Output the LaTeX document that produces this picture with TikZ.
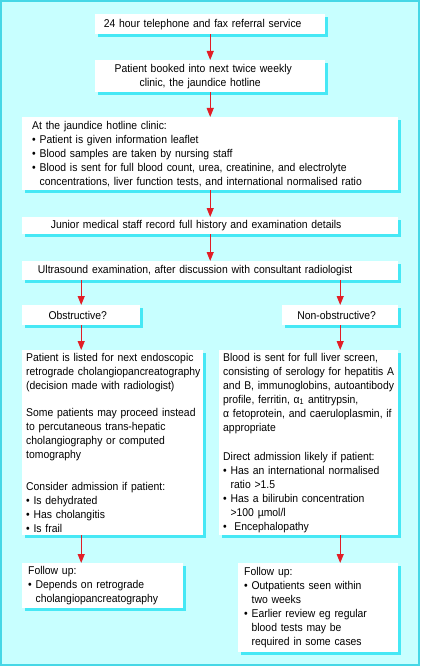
\documentclass[tikz,border=0pt]{standalone}
\usepackage{fontspec}
\setmainfont[FakeStretch=0.92]{Liberation Sans}
\usetikzlibrary{arrows.meta,shadows}
\definecolor{bgc}{RGB}{200,255,255}
\definecolor{shc}{RGB}{70,232,245}
\definecolor{borderc}{RGB}{70,215,230}
\definecolor{arrc}{RGB}{226,30,38}
\hyphenpenalty=10000
\exhyphenpenalty=10000
\begin{document}
\begin{tikzpicture}[x=1pt,y=-1pt,
  box/.style={fill=white, anchor=north west, inner ysep=0pt,
    font=\fontsize{11.3}{14}\selectfont,
    general shadow={fill=shc, shadow xshift=3pt, shadow yshift=-3pt}},
  cbox/.style={box, align=center, inner xsep=0pt},
  lbox/.style={box, align=left},
  arr/.style={draw=arrc, line width=1.1pt, -{Triangle[length=9pt,width=7pt]}}]
\useasboundingbox (0,0) rectangle (420,666);
\fill[bgc] (0,0) rectangle (420,666);
\draw[borderc, line width=2pt] (1,1) rectangle (419,665);

\node[cbox, text width=230pt, minimum height=20pt] (b1) at (95,14)
  {\hspace*{-15pt}24 hour telephone and fax referral service};
\node[cbox, text width=230pt, minimum height=32pt] (b2) at (95,60)
  {\hspace*{-14pt}Patient booked into next twice weekly\\\hspace*{-20pt}clinic, the jaundice hotline};
\node[lbox, inner xsep=10pt, text width=356pt, minimum height=73pt] (b3) at (22,117)
  {At the jaundice hotline clinic:\\
   • Patient is given information leaflet\\
   • Blood samples are taken by nursing staff\\
   • Blood is sent for full blood count, urea, creatinine, and electrolyte\\
   \phantom{• }concentrations, liver function tests, and international normalised ratio};
\node[cbox, text width=376pt, minimum height=17pt] (b4) at (22,217)
  {\hspace*{-28pt}Junior medical staff record full history and examination details};
\node[cbox, text width=376pt, minimum height=19pt] (b5) at (22,261)
  {\hspace*{-30pt}Ultrasound examination, after discussion with consultant radiologist};
\node[cbox, text width=118pt, minimum height=20pt] (b6) at (22,305)
  {\hspace*{-7pt}Obstructive?};
\node[cbox, text width=116pt, minimum height=20pt] (b7) at (282,305)
  {\hspace*{-7pt}Non-obstructive?};
\node[lbox, inner xsep=4pt, text width=173pt, minimum height=185pt] (b8) at (22,350)
  {Patient is listed for next endoscopic\\
   \mbox{retrograde cholangiopancreatography}\\
   (decision made with radiologist)\\[13pt]
   Some patients may proceed instead\\
   to percutaneous trans-hepatic\\
   cholangiography or computed\\
   tomography\\[18pt]
   Consider admission if patient:\\
   • Is dehydrated\\
   • Has cholangitis\\
   • Is frail};
\node[lbox, inner xsep=4pt, text width=171pt, minimum height=185pt] (b9) at (219,350)
  {Blood is sent for full liver screen,\\
   consisting of serology for hepatitis A\\
   and B, immunoglobins, autoantibody\\
   profile, ferritin, α\textsubscript{1} antitrypsin,\\
   α fetoprotein, and caeruloplasmin, if\\
   appropriate\\[15pt]
   Direct admission likely if patient:\\
   • Has an international normalised\\
   \phantom{• }ratio >1.5\\
   • Has a bilirubin concentration\\
   \phantom{• }>100 µmol/l\\
   •\ \ Encephalopathy};
\node[lbox, inner xsep=6pt, text width=149pt, minimum height=45pt] (b10) at (22,563)
  {Follow up:\\
   • Depends on retrograde\\
   \phantom{• }cholangiopancreatography};
\node[lbox, inner xsep=6pt, text width=148pt, minimum height=89pt] (b11) at (238,563)
  {Follow up:\\
   • Outpatients seen within\\
   \phantom{• }two weeks\\
   • Earlier review eg regular\\
   \phantom{• }blood tests may be\\
   \phantom{• }required in some cases};

\draw[arr] (b1.south) -- (b2.north);
\draw[arr] (b2.south) -- (b3.north);
\draw[arr] (b3.south) -- (b4.north);
\draw[arr] (b4.south) -- (b5.north);
\draw[arr] (b6.north |- b5.south) -- (b6.north);
\draw[arr] (b7.north |- b5.south) -- (b7.north);
\draw[arr] (b6.south) -- (b6.south |- b8.north);
\draw[arr] (b7.south) -- (b7.south |- b9.north);
\draw[arr] (b6.south |- b8.south) -- (b6.south |- b10.north);
\draw[arr] (b7.south |- b9.south) -- (b7.south |- b11.north);
\end{tikzpicture}
\end{document}
